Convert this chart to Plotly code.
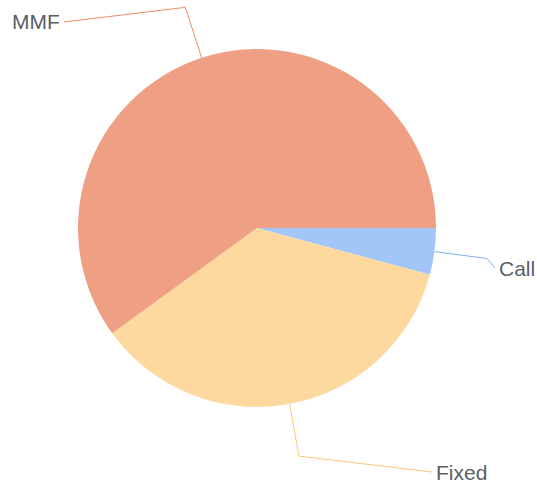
import math
import plotly.graph_objects as go

# ---- data ----
labels = ["Call", "Fixed", "MMF"]
values = [4.2, 35.8, 60.0]
colors = ["#a2c6f8", "#fdd89f", "#ef9f83"]
line_colors = ["#7fb0f3", "#fbc677", "#ee8c68"]

# ---- layout config ----
W, H = 537, 484
CX, CY, R = 257, 228, 179           # pie centre / radius in px
LEAD1 = 53                          # first leader segment length (px)
label_pos = {
    "MMF": (62, 22, "right"),
    "Fixed": (434, 472, "left"),
    "Call": (497, 268, "left"),
}
TEXT_COLOR = "#5a5f66"
FONT = "Liberation Sans, Arial, sans-serif"


def px(x):
    return x / W


def py(y):
    return 1 - y / H


fig = go.Figure(go.Pie(
    labels=labels, values=values, sort=False, direction="clockwise",
    rotation=90, textinfo="none", hoverinfo="label+percent",
    marker=dict(colors=colors, line=dict(width=0)),
    domain=dict(x=[px(CX - R), px(CX + R)], y=[py(CY + R), py(CY - R)]),
    showlegend=False,
))

total = sum(values)
cum = 0.0
shapes, annotations = [], []
for lab, val, col in zip(labels, values, line_colors):
    mid = (cum + val / 2) / total * 2 * math.pi   # clockwise from 3 o'clock
    cum += val
    c, s = math.cos(mid), math.sin(mid)
    x0, y0 = CX + R * c, CY + R * s
    x1, y1 = CX + (R + LEAD1) * c, CY + (R + LEAD1) * s
    lx, ly, anchor = label_pos[lab]
    x2 = lx + (-2 if anchor == "left" else 2)
    path = f"M {px(x0)},{py(y0)} L {px(x1)},{py(y1)} L {px(x2)},{py(ly)}"
    shapes.append(dict(type="path", path=path, xref="paper", yref="paper",
                       line=dict(color=col, width=1)))
    annotations.append(dict(x=px(lx), y=py(ly), xref="paper", yref="paper",
                            text=lab, showarrow=False, xanchor=anchor,
                            yanchor="middle",
                            font=dict(size=21, color=TEXT_COLOR, family=FONT)))

fig.update_layout(
    width=W, height=H, margin=dict(l=0, r=0, t=0, b=0),
    paper_bgcolor="white", plot_bgcolor="white",
    shapes=shapes, annotations=annotations,
)
fig.write_html("out.html", config={"displayModeBar": False},
               post_script="document.body.style.margin='0';"
                           "document.body.style.overflow='hidden';")
